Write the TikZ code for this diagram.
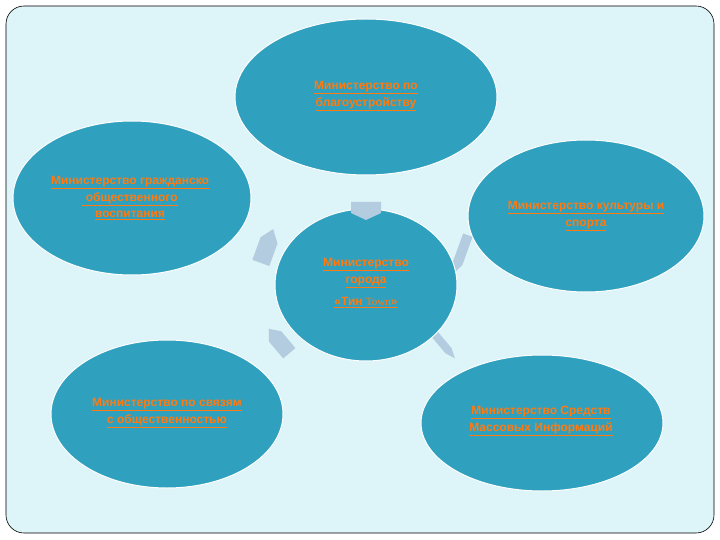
\documentclass[tikz,border=0pt]{standalone}
\usepackage{fontspec}
\setmainfont{Liberation Sans}
\newfontfamily\serifpart{Liberation Serif}
\usetikzlibrary{shapes.geometric}
\definecolor{bgc}{HTML}{DDF4F8}
\definecolor{ell}{HTML}{2FA1BF}
\definecolor{txt}{HTML}{FF7A10}
\definecolor{arr}{HTML}{B3CCDF}
\tikzset{
  ministry/.style={ellipse, fill=ell, draw=white, line width=1pt, inner sep=0pt},
  lbl/.style={text=txt, align=center, font=\fontsize{12}{16.5}\selectfont\bfseries},
  cyc/.style={fill=arr, draw=none},
}
\newcommand{\ul}[1]{\underline{#1}}
\begin{document}
\begin{tikzpicture}[x=1pt,y=-1pt]
\useasboundingbox (0,0) rectangle (720,540);
\draw[fill=bgc, draw=black, line width=0.6pt, rounded corners=18pt] (6,6) rectangle (714,533);

\node[ministry, minimum width=262pt, minimum height=156pt] (top) at (366,97) {};
\node[ministry, minimum width=238pt, minimum height=154pt] (left) at (132,198) {};
\node[ministry, minimum width=236pt, minimum height=152pt] (right) at (586,216) {};
\node[ministry, minimum width=232pt, minimum height=148pt] (bl) at (167,414) {};
\node[ministry, minimum width=242pt, minimum height=136pt] (br) at (542,423) {};

% cycle arrows
\fill[cyc, shift={(267,246)}, rotate=-20] (-9,18) -- (9,18) -- (9,-6) -- (0,-18) -- (-9,-6) -- cycle;
\fill[cyc, shift={(461,254)}, rotate=-20] (-5,-20) -- (5,-20) -- (5,10) -- (0,20) -- (-5,10) -- cycle;
\fill[cyc, shift={(279,341)}, rotate=40] (-8,16) -- (8,16) -- (8,-6) -- (0,-16) -- (-8,-6) -- cycle;
\fill[cyc, shift={(442,343)}, rotate=40] (-4,-20) -- (4,-20) -- (4,10) -- (0,20) -- (-4,10) -- cycle;

\node[ministry, minimum width=182pt, minimum height=152pt] (center) at (366,285) {};
\fill[cyc] (351,202) -- (381,202) -- (381,213) -- (366,220) -- (351,213) -- cycle;

\node[lbl] (tt) at (366,96) {\ul{Министерство по}\\\ul{благоустройству}};
\node[lbl] (lt) at (130,198) {\ul{Министерство гражданско}\\\ul{\ общественного}\\\ul{воспитания}};
\node[lbl] (rt) at (586,216) {\ul{Министерство  культуры и}\\\ul{спорта}};
\node[lbl] (ct) at (366,283) {\ul{Министерство}\\\ul{города}\\[6pt]\ul{«Тин\ {\serifpart\mdseries\fontsize{11}{16}\selectfont Town}»}};
\node[lbl] (blt) at (167,413) {\ul{Министерство по связям}\\\ul{с общественностью}};
\node[lbl] (brt) at (541,421) {\ul{Министерство Средств}\\\ul{Массовых Информаций}};
\end{tikzpicture}
\end{document}
